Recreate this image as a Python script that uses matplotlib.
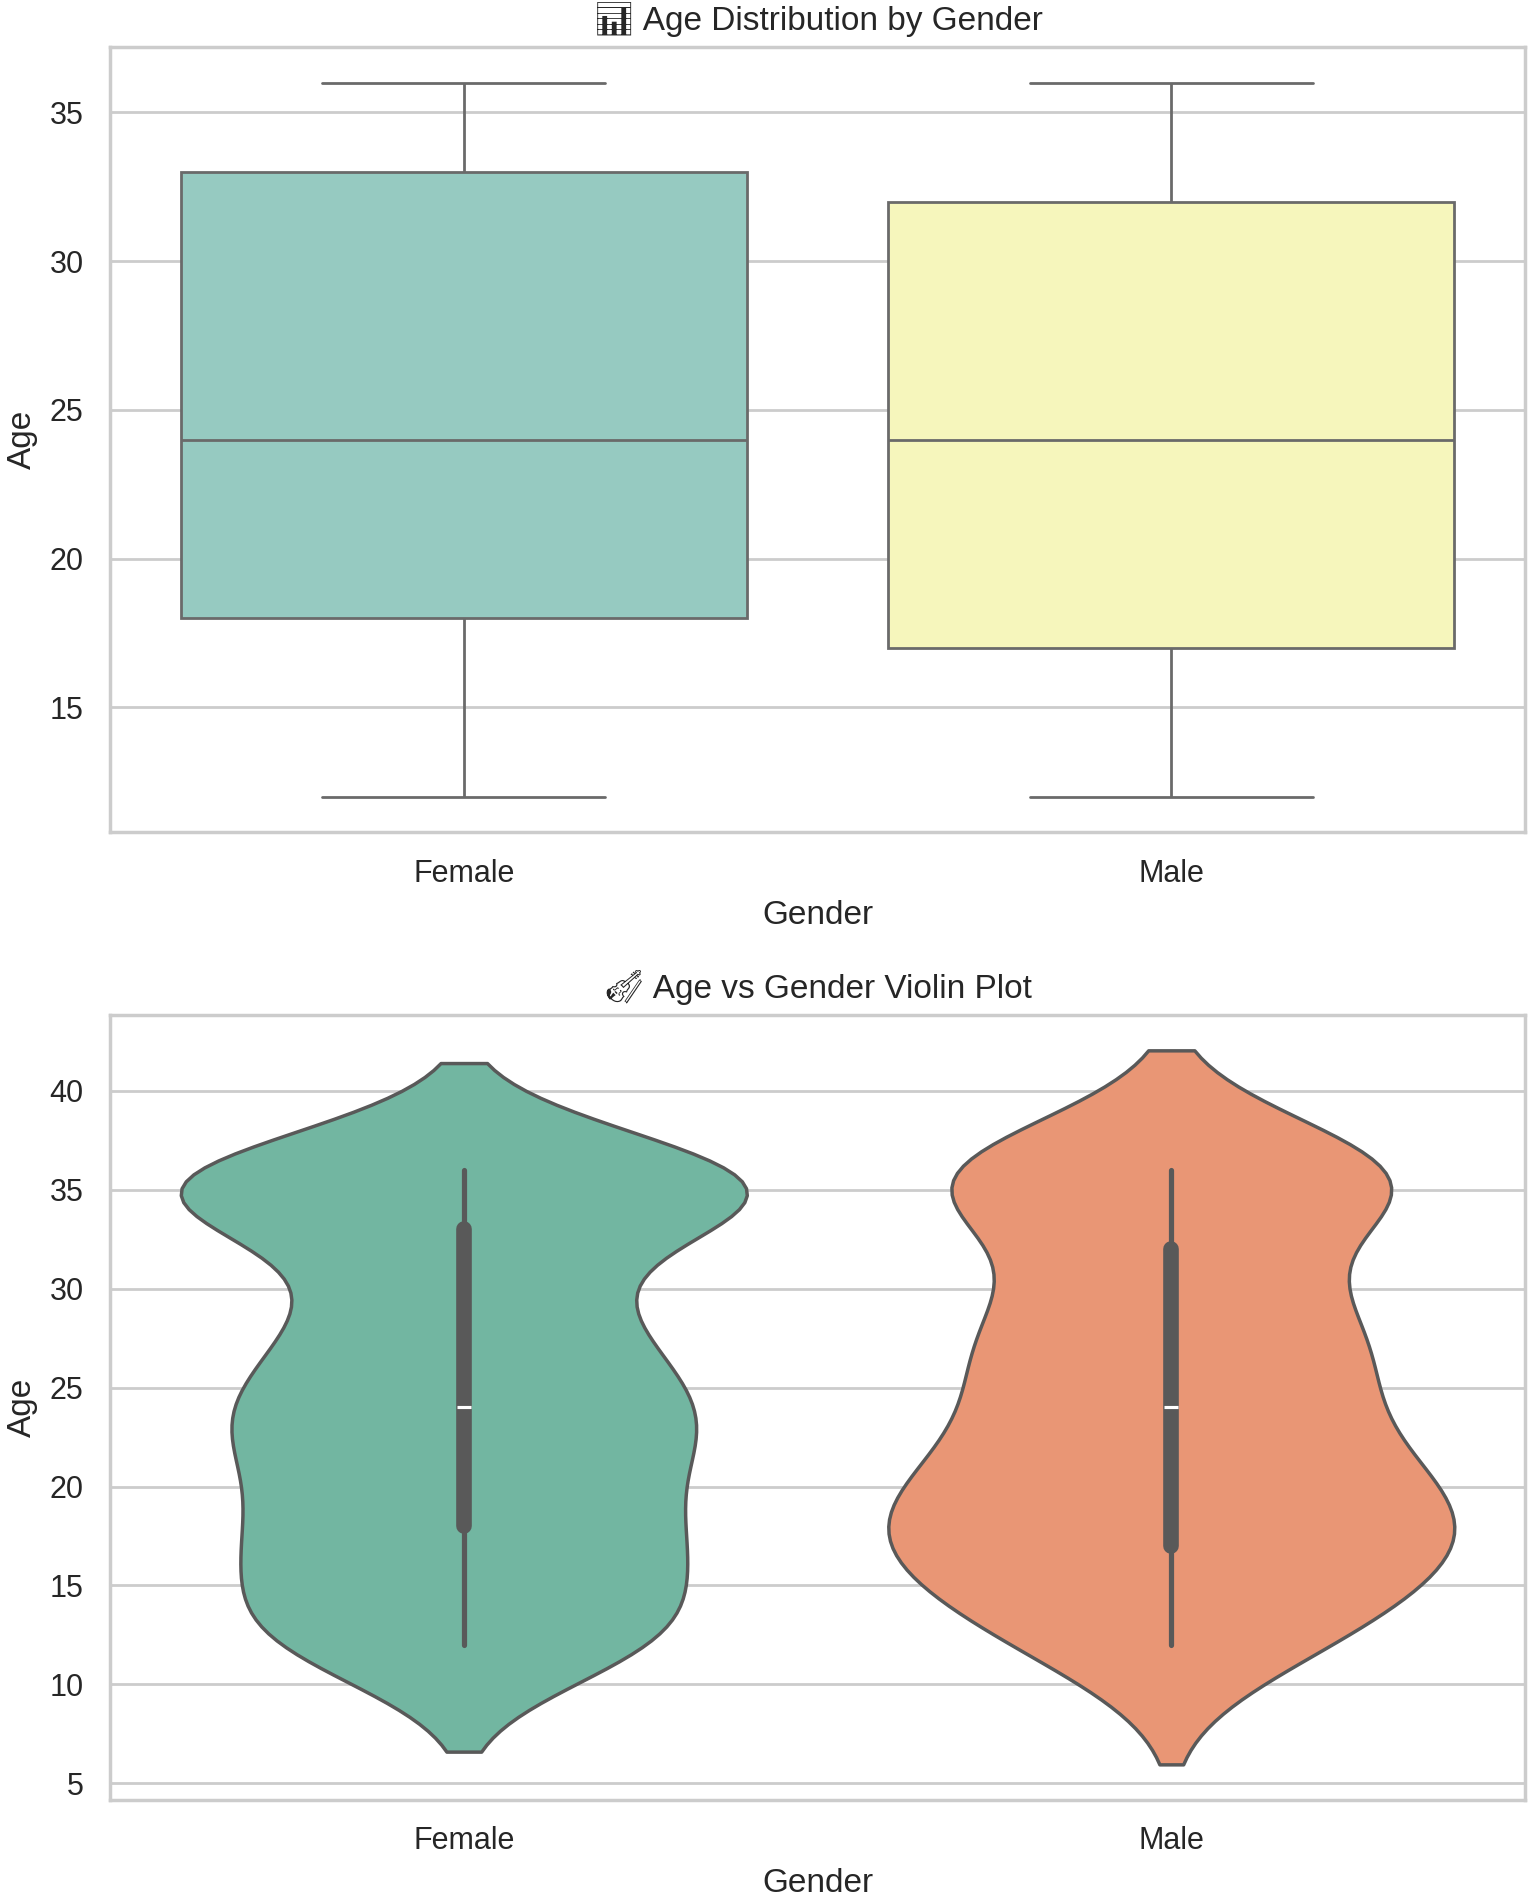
import numpy as np
import pandas as pd
import matplotlib
matplotlib.use('Agg')
import matplotlib.pyplot as plt
import seaborn as sns

# number of people at each age (12..36), estimated from the box and violin shapes
AGES = list(range(12, 37))
FEMALE_COUNTS = [36, 5, 1, 12, 15, 4, 21, 1, 11, 8, 9, 16, 15,
                 8, 7, 11, 6, 10, 7, 1, 2, 16, 1, 37, 35]
MALE_COUNTS = [13, 1, 2, 7, 9, 7, 6, 9, 7, 4, 6, 1, 9,
               1, 2, 9, 7, 3, 2, 3, 3, 1, 1, 7, 25]
GENDERS = ['Female', 'Male']

DPI = 200
TITLE_FONTS = ['Liberation Sans', 'Noto Emoji', 'DejaVu Sans']


def build_frame():
    female = np.repeat(AGES, FEMALE_COUNTS)
    male = np.repeat(AGES, MALE_COUNTS)
    return pd.DataFrame({
        'Gender': ['Female'] * len(female) + ['Male'] * len(male),
        'Age': np.concatenate([female, male]),
    })


def main():
    sns.set_theme(style='whitegrid')
    plt.rcParams['font.family'] = ['Liberation Sans', 'DejaVu Sans']
    df = build_frame()

    fig, (ax1, ax2) = plt.subplots(2, 1, figsize=(1535 / DPI, 1895 / DPI))

    sns.boxplot(data=df, x='Gender', y='Age', hue='Gender', order=GENDERS,
                hue_order=GENDERS, palette='Set3', legend=False, ax=ax1)
    ax1.set_title('\U0001F4CA Age Distribution by Gender', family=TITLE_FONTS)

    sns.violinplot(data=df, x='Gender', y='Age', hue='Gender', order=GENDERS,
                   hue_order=GENDERS, palette='Set2', legend=False, ax=ax2)
    ax2.set_title('\U0001F3BB Age vs Gender Violin Plot', family=TITLE_FONTS)

    fig.subplots_adjust(left=0.0717, right=0.9935, top=0.9752, bottom=0.0501, hspace=0.232)
    fig.savefig('out.png', dpi=DPI)
    plt.close(fig)


if __name__ == '__main__':
    main()
